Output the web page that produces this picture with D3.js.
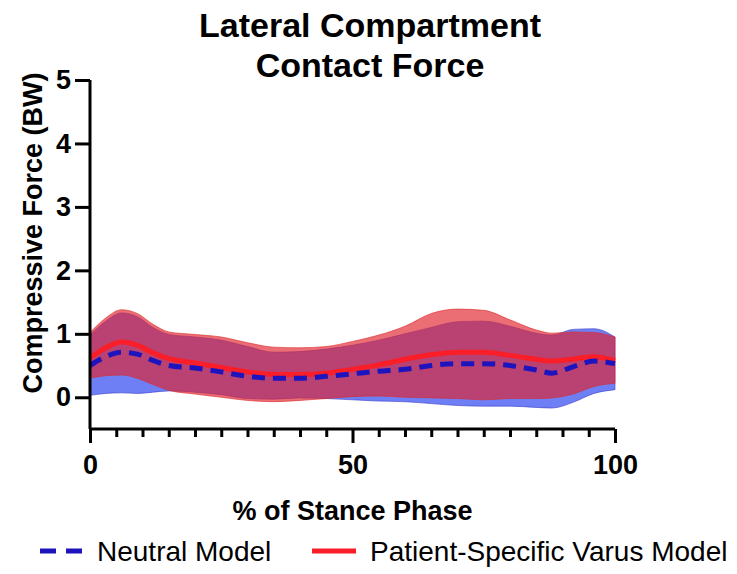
<!DOCTYPE html>
<html><head><meta charset="utf-8">
<script src="https://cdn.jsdelivr.net/npm/d3@7"></script>
<style>body{margin:0;background:#fff;} svg{display:block;font-family:"Liberation Sans",Arial,sans-serif;}</style>
</head><body>
<svg id="chart" width="737" height="574"></svg>
<script>
// ---- data (percent of stance phase, compressive force in BW) ----
const stance = [0, 3, 6, 9, 12, 15, 20, 25, 30, 35, 40, 45, 50, 55, 60, 65, 70, 75, 80, 85, 88, 92, 96, 100];
const neutralMean  = [0.50, 0.64, 0.71, 0.68, 0.58, 0.50, 0.46, 0.40, 0.33, 0.30, 0.30, 0.33, 0.37, 0.41, 0.44, 0.50, 0.53, 0.53, 0.50, 0.43, 0.38, 0.48, 0.57, 0.53];
const neutralUpper = [0.98, 1.20, 1.33, 1.27, 1.10, 0.99, 0.95, 0.90, 0.80, 0.71, 0.72, 0.76, 0.82, 0.90, 1.00, 1.10, 1.19, 1.20, 1.12, 1.01, 0.98, 1.07, 1.08, 0.95];
const neutralLower = [0.03, 0.06, 0.07, 0.06, 0.08, 0.10, 0.08, 0.04, -0.02, -0.03, -0.01, -0.02, -0.04, -0.06, -0.07, -0.10, -0.13, -0.14, -0.14, -0.16, -0.17, -0.08, 0.06, 0.12];
const varusMean  = [0.62, 0.78, 0.87, 0.82, 0.70, 0.61, 0.54, 0.47, 0.40, 0.36, 0.36, 0.38, 0.44, 0.51, 0.60, 0.67, 0.71, 0.71, 0.66, 0.60, 0.57, 0.60, 0.64, 0.58];
const varusUpper = [1.02, 1.25, 1.38, 1.32, 1.15, 1.03, 0.99, 0.95, 0.86, 0.79, 0.78, 0.80, 0.88, 0.98, 1.12, 1.32, 1.39, 1.37, 1.22, 1.06, 1.01, 1.03, 1.02, 0.95];
const varusLower = [0.30, 0.34, 0.35, 0.30, 0.20, 0.11, 0.05, 0.00, -0.05, -0.07, -0.05, -0.02, 0.01, 0.02, 0.00, -0.01, -0.02, -0.04, -0.02, -0.02, -0.01, 0.05, 0.17, 0.22];
const yTicks = [0, 1, 2, 3, 4, 5];
const xTicksMajor = [0, 50, 100];
const xTicksMinor = [5, 10, 15, 20, 25, 30, 35, 40, 45, 55, 60, 65, 70, 75, 80, 85, 90, 95];
const titleLines = ["Lateral Compartment", "Contact Force"];
const yTitle = "Compressive Force (BW)";
const xTitle = "% of Stance Phase";
const legendLabels = ["Neutral Model", "Patient-Specific Varus Model"];

const svg = d3.select("#chart");
const x = d3.scaleLinear().domain([0, 100]).range([90, 615]);
const y = d3.scaleLinear().domain([-0.5, 5]).range([429, 80]);

const rows = (m, u, l) => stance.map((t, i) => ({t, m: m[i], u: u[i], l: l[i]}));
const neutral = rows(neutralMean, neutralUpper, neutralLower);
const varus = rows(varusMean, varusUpper, varusLower);

const curve = d3.curveMonotoneX;
const area = d3.area().x(d => x(d.t)).y0(d => y(d.l)).y1(d => y(d.u)).curve(curve);
const line = d3.line().x(d => x(d.t)).y(d => y(d.m)).curve(curve);

// bands
svg.append("path").datum(neutral).attr("d", area)
  .attr("fill", "rgb(85,105,245)").attr("fill-opacity", 0.85)
  .attr("stroke", "rgb(60,60,200)").attr("stroke-width", 1).attr("stroke-opacity", 0.6);
svg.append("path").datum(varus).attr("d", area)
  .attr("fill", "rgb(225,35,45)").attr("fill-opacity", 0.66)
  .attr("stroke", "rgb(220,40,40)").attr("stroke-width", 1).attr("stroke-opacity", 0.6);

// mean lines
svg.append("path").datum(varus).attr("d", line)
  .attr("fill", "none").attr("stroke", "#fa1e28").attr("stroke-width", 5);
svg.append("path").datum(neutral).attr("d", line)
  .attr("fill", "none").attr("stroke", "#1e14be").attr("stroke-width", 5)
  .attr("stroke-dasharray", "13,8");

// y axis
const yAxis = d3.axisLeft(y).tickValues(yTicks).tickSize(15).tickPadding(4).tickFormat(d3.format("d"));
const gy = svg.append("g").attr("transform", `translate(${x(0)},0)`).call(yAxis);
gy.select(".domain").attr("d", `M0,${y(5)}V${y(-0.5)}`).attr("stroke-width", 3);
gy.selectAll(".tick line").attr("stroke-width", 3);
gy.selectAll(".tick text").attr("font-size", 27).attr("font-weight", "bold").attr("fill", "#000");

// x axis
const xAxisMinor = d3.axisBottom(x).tickValues(xTicksMinor).tickSize(8).tickFormat("");
const gxm = svg.append("g").attr("transform", `translate(0,${y(-0.5)})`).call(xAxisMinor);
gxm.select(".domain").remove();
gxm.selectAll(".tick line").attr("stroke-width", 3);
const xAxis = d3.axisBottom(x).tickValues(xTicksMajor).tickSize(14).tickPadding(12).tickFormat(d3.format("d"));
const gx = svg.append("g").attr("transform", `translate(0,${y(-0.5)})`).call(xAxis);
gx.select(".domain").attr("d", `M${x(0)},0H${x(100)}`).attr("stroke-width", 3);
gx.selectAll(".tick line").attr("stroke-width", 3);
gx.selectAll(".tick text").attr("font-size", 27).attr("font-weight", "bold").attr("fill", "#000");

// titles
svg.append("text").attr("x", 370).attr("text-anchor", "middle")
  .attr("font-size", 34).attr("font-weight", "bold")
  .selectAll("tspan").data(titleLines).join("tspan")
  .attr("x", 370).attr("y", (d, i) => 37 + i * 40).text(d => d);

svg.append("text").attr("transform", `translate(42,233) rotate(-90)`)
  .attr("text-anchor", "middle").attr("font-size", 27).attr("font-weight", "bold").text(yTitle);

svg.append("text").attr("x", x(50)).attr("y", 520).attr("text-anchor", "middle")
  .attr("font-size", 27).attr("font-weight", "bold").text(xTitle);

// legend
const ly = 551;
svg.append("line").attr("x1", 40).attr("x2", 86).attr("y1", ly).attr("y2", ly)
  .attr("stroke", "#1e14be").attr("stroke-width", 5).attr("stroke-dasharray", "16,10");
svg.append("text").attr("x", 97).attr("y", ly + 10).attr("font-size", 28).text(legendLabels[0]);
svg.append("line").attr("x1", 312).attr("x2", 356).attr("y1", ly).attr("y2", ly)
  .attr("stroke", "#fa1e28").attr("stroke-width", 5);
svg.append("text").attr("x", 370).attr("y", ly + 10).attr("font-size", 28).text(legendLabels[1]);
</script>
</body></html>
